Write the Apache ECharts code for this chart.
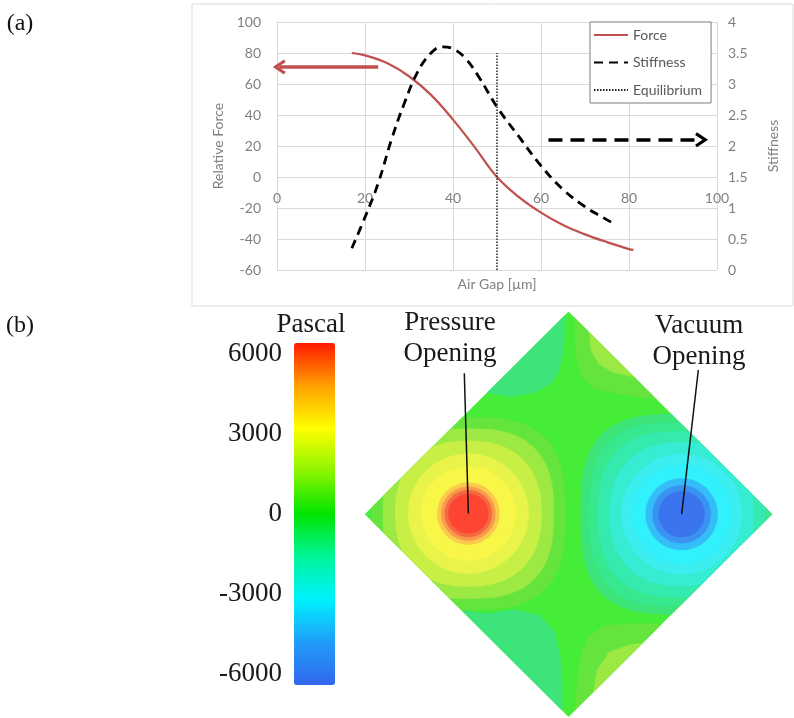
<!DOCTYPE html>
<html><head><meta charset="utf-8">
<script src="https://cdn.jsdelivr.net/npm/echarts@6/dist/echarts.min.js"></script>
<style>html,body{margin:0;padding:0;background:#fff}#c{width:794px;height:718px}</style>
</head><body><div id="c"></div>
<script>
// ---------- (a) line chart data ----------
const forceGap = [17, 20, 25, 30, 35, 40, 45, 50, 55, 60, 65, 70, 75, 80, 81];
const forceVal = [80, 78.5, 73.5, 65, 53, 37, 19, 0, -13, -23, -31, -37, -42, -46.5, -47];
const stiffGap = [17, 20, 23, 26, 29, 32, 35, 37.5, 40, 43, 46, 50, 55, 60, 65, 70, 74, 77];
const stiffVal = [0.35, 0.85, 1.4, 2.1, 2.7, 3.2, 3.5, 3.6, 3.57, 3.4, 3.1, 2.63, 2.15, 1.68, 1.3, 1.02, 0.85, 0.73];
const equilibriumGap = [50, 50];
const equilibriumForce = [-60, 80];
const forceArrowGap = [23, 0.5];
const forceArrowVal = [71, 71];
const stiffArrowGap = [61.7, 96.5];
const stiffArrowVal = [2.1, 2.1];
const seriesNames = ['Force', 'Stiffness', 'Equilibrium'];

// ---------- (b) pressure map data ----------
const colorbarTicks = [-6000, -3000, 0, 3000, 6000];
const colorbarRange = [-6400, 6400];
const pressureCenter = [-49.2, 0.3];
const pressureRingLevels = [1, 2, 3, 4, 5, 6, 7, 8, 9];
const pressureRingRadii = [47.5, 42, 36, 29.6, 23.3, 15.3, 13.3, 11.6, 9.8];
const vacuumCenter = [55.6, 0];
const vacuumRingLevels = [-1, -2, -3, -4, -5, -6, -7, -8, -9];
const vacuumRingRadii = [49.5, 45.5, 41, 35.5, 29.6, 24.6, 17.7, 14.3, 11.3];
const wedgeLevels = [-1, 1, 2, -1, 1, 2];
const wedgeOutlines = [
  [[-2, 98], [-2, 88], [-3, 78], [-5, 70], [-9, 64], [-17, 60], [-28, 58], [-40, 60]],
  [[3, 98], [3, 88], [4, 76], [7, 67], [13, 62], [26, 59], [44, 56.5], [60, 60]],
  [[10, 92], [11, 81], [15, 74], [22, 70], [33, 67.5], [50, 70]],
  [[-3, -98], [-3, -85], [-4, -70], [-7, -58], [-14, -50], [-26, -47], [-40, -49], [-53, -47.5], [-70, -50]],
  [[3, -98], [4, -85], [6, -70], [10, -60], [18, -55], [30, -54], [46, -54], [65, -55]],
  [[12, -90], [14, -77], [20, -68], [30, -64.5], [37, -63.5], [55, -65]]
];
const pressureLeader = [[-49.2, 0.3], [-51.2, 69.6]];
const vacuumLeader = [[55.6, 0], [63.8, 71.2]];

// ---------- styles ----------
const mapLevelColors = ['#3a74ee','#3a92f2','#35bdf7','#31f1fd','#3deef0','#36ecd2','#35eaae','#37e88e','#3ce47a',
  '#45ec38','#66e43e','#9be942','#c8ef45','#e8f44a','#f8f647','#fbc94c','#f99a4a','#f36a40','#fe4532'];
const barColors = ['#3366ee','#1f9df8','#00f2ff','#00f59a','#00e400','#8cf500','#ffff00','#ffa000','#ff1a00'];
const SANS = 'Lato, "Open Sans", sans-serif';
const SERIF = '"Liberation Serif", "DejaVu Serif", serif';
const GREY = '#808080';

function superellipse(c, r) {
  const n = r < 30 ? 2 : Math.min(3.0, 2 + (r - 30) / 18);
  const pts = [];
  for (let k = 0; k < 120; k++) {
    const t = 2 * Math.PI * k / 120, co = Math.cos(t), si = Math.sin(t);
    pts.push([c[0] + r * Math.sign(co) * Math.pow(Math.abs(co), 2 / n),
              c[1] + r * Math.sign(si) * Math.pow(Math.abs(si), 2 / n)]);
  }
  return pts;
}
function clipDiamond(poly, R) {
  const planes = [[1, 1], [1, -1], [-1, 1], [-1, -1]];
  let out = poly;
  for (const [a, b] of planes) {
    const inp = out; out = [];
    for (let i = 0; i < inp.length; i++) {
      const P = inp[i], Q = inp[(i + 1) % inp.length];
      const fp = a * P[0] + b * P[1] - R, fq = a * Q[0] + b * Q[1] - R;
      if (fp <= 0) out.push(P);
      if ((fp < 0 && fq > 0) || (fp > 0 && fq < 0)) {
        const t = fp / (fp - fq);
        out.push([P[0] + t * (Q[0] - P[0]), P[1] + t * (Q[1] - P[1])]);
      }
    }
    if (!out.length) break;
  }
  return out;
}
function wedgePolygon(outline) {
  const first = outline[0], last = outline[outline.length - 1];
  const sy = Math.sign(first[1]), sx = Math.sign(last[0]);
  return outline.concat([[sx * 120, sy * 120], [first[0], sy * 120]]);
}
const mapShapes = [{ level: 0, pts: [[-100, 0], [0, 100], [100, 0], [0, -100]] }];
pressureRingLevels.forEach((lv, i) => mapShapes.push({ level: lv, pts: superellipse(pressureCenter, pressureRingRadii[i]) }));
vacuumRingLevels.forEach((lv, i) => mapShapes.push({ level: lv, pts: superellipse(vacuumCenter, vacuumRingRadii[i]) }));
wedgeOutlines.forEach((o, i) => mapShapes.push({ level: wedgeLevels[i], pts: wedgePolygon(o) }));

const chevron = 'path://M10,0 L20,13 L16.5,15 L10,6.5 L3.5,15 L0,13 Z';

const chart = echarts.init(document.getElementById('c'));
chart.setOption({
  animation: false,
  backgroundColor: '#fff',
  grid: [
    { left: 277, top: 22, width: 440, height: 248 },
    { left: 294, top: 343, width: 41, height: 342 },
    { left: 365, top: 311.7, width: 407, height: 405 }
  ],
  xAxis: [
    { gridIndex: 0, type: 'value', min: 0, max: 100, interval: 20, position: 'bottom', offset: -93,
      axisLine: { onZero: false, lineStyle: { color: '#d9d9d9' } }, axisTick: { show: false },
      axisLabel: { color: GREY, fontSize: 14, fontFamily: SANS, margin: 14 },
      splitLine: { show: true, lineStyle: { color: '#d9d9d9' } } },
    { gridIndex: 1, type: 'value', min: 0, max: 1, show: false },
    { gridIndex: 2, type: 'value', min: -100, max: 100, show: false }
  ],
  yAxis: [
    { gridIndex: 0, type: 'value', min: -60, max: 100, interval: 20, position: 'left',
      axisLine: { show: false }, axisTick: { show: false },
      axisLabel: { color: GREY, fontSize: 14, fontFamily: SANS, margin: 16 },
      splitLine: { lineStyle: { color: '#d9d9d9' } },
      name: 'Relative Force', nameLocation: 'middle', nameGap: 45, nameRotate: 90,
      nameTextStyle: { color: GREY, fontSize: 14, fontFamily: SANS } },
    { gridIndex: 0, type: 'value', min: 0, max: 4, interval: 0.5, position: 'right',
      axisLine: { show: false }, axisTick: { show: false }, splitLine: { show: false },
      axisLabel: { color: GREY, fontSize: 14, fontFamily: SANS, margin: 11 },
      name: 'Stiffness', nameLocation: 'middle', nameGap: 49, nameRotate: 90,
      nameTextStyle: { color: GREY, fontSize: 14, fontFamily: SANS } },
    { gridIndex: 1, type: 'value', min: colorbarRange[0], max: colorbarRange[1],
      axisLine: { show: false }, axisTick: { show: false }, splitLine: { show: false },
      axisLabel: { customValues: colorbarTicks, formatter: v => String(v), color: '#1a1a1a', fontSize: 27, fontFamily: SERIF, margin: 12 } },
    { gridIndex: 2, type: 'value', min: -100, max: 100, show: false }
  ],
  legend: {
    orient: 'vertical', left: 590, top: 22, data: seriesNames,
    itemWidth: 34, itemHeight: 14, itemGap: 13.5, padding: [6, 9, 6, 3],
    borderColor: '#7f7f7f', borderWidth: 1, backgroundColor: '#fff',
    itemStyle: { opacity: 0, borderWidth: 0 },
    textStyle: { color: '#595959', fontSize: 14, fontFamily: SANS }
  },
  visualMap: {
    type: 'continuous', min: colorbarRange[0], max: colorbarRange[1], calculable: false,
    left: 294, top: 343, itemWidth: 41, itemHeight: 342, padding: 0, text: null, showLabel: false,
    inRange: { color: barColors }, seriesIndex: 5, hoverLink: false
  },
  series: [
    { name: seriesNames[0], type: 'line', xAxisIndex: 0, yAxisIndex: 0, smooth: 0.4, showSymbol: false, symbol: 'none',
      data: forceGap.map((g, i) => [g, forceVal[i]]),
      lineStyle: { color: '#c0504d', width: 2.2 }, itemStyle: { color: '#c0504d' },
      markLine: { silent: true, animation: false, symbol: ['none', chevron], symbolSize: [15, 13],
        label: { show: false }, lineStyle: { color: '#c0504d', width: 3.5, type: 'solid' },
        data: [[{ coord: [forceArrowGap[0], forceArrowVal[0]] }, { coord: [forceArrowGap[1], forceArrowVal[1]] }]] } },
    { name: seriesNames[1], type: 'line', xAxisIndex: 0, yAxisIndex: 1, smooth: 0.4, showSymbol: false, symbol: 'none',
      data: stiffGap.map((g, i) => [g, stiffVal[i]]),
      lineStyle: { color: '#000', width: 2.8, type: [9, 6] }, itemStyle: { color: '#000' },
      markLine: { silent: true, animation: false, symbol: ['none', chevron], symbolSize: [15, 13],
        label: { show: false }, lineStyle: { color: '#000', width: 3.5, type: [14, 8] },
        data: [[{ coord: [stiffArrowGap[0], stiffArrowVal[0]] }, { coord: [stiffArrowGap[1], stiffArrowVal[1]] }]] } },
    { name: seriesNames[2], type: 'line', xAxisIndex: 0, yAxisIndex: 0, showSymbol: false, symbol: 'none',
      data: equilibriumGap.map((g, i) => [g, equilibriumForce[i]]),
      lineStyle: { color: '#222', width: 1.5, type: [1.5, 1.5] }, itemStyle: { color: '#222' } },
    { type: 'custom', xAxisIndex: 2, yAxisIndex: 3, silent: true,
      data: mapShapes.map((s, i) => [i, s.level]),
      renderItem: function (params, api) {
        const s = mapShapes[api.value(0)];
        const pts = clipDiamond(s.pts, 100).map(p => api.coord(p));
        return { type: 'polygon', shape: { points: pts },
          style: { fill: mapLevelColors[s.level + 9], stroke: mapLevelColors[s.level + 9], lineWidth: 0.3 } };
      } },
    { type: 'lines', coordinateSystem: 'cartesian2d', xAxisIndex: 2, yAxisIndex: 3, silent: true, z: 5,
      data: [{ coords: pressureLeader }, { coords: vacuumLeader }],
      lineStyle: { color: '#111', width: 1.5, opacity: 1 } },
    { type: 'scatter', xAxisIndex: 1, yAxisIndex: 2, data: [], silent: true }
  ],
  graphic: [
    { type: 'rect', z: 0, silent: true, shape: { x: 192, y: 4, width: 601, height: 302 },
      style: { fill: 'none', stroke: '#d9d9d9', lineWidth: 1 } },
    { type: 'text', z: 100, x: 497, y: 284, style: { text: 'Air Gap [µm]', fill: GREY, font: '14px ' + SANS, textAlign: 'center', textVerticalAlign: 'middle' } },
    { type: 'text', z: 100, x: 20, y: 24, style: { text: '(a)', fill: '#111', font: '24px ' + SERIF, textAlign: 'center', textVerticalAlign: 'middle' } },
    { type: 'text', z: 100, x: 20, y: 326, style: { text: '(b)', fill: '#111', font: '24px ' + SERIF, textAlign: 'center', textVerticalAlign: 'middle' } },
    { type: 'text', z: 100, x: 311, y: 325, style: { text: 'Pascal', fill: '#1a1a1a', font: '27px ' + SERIF, textAlign: 'center', textVerticalAlign: 'middle' } },
    { type: 'text', z: 100, x: 450, y: 338, style: { text: 'Pressure\nOpening', fill: '#1a1a1a', font: '27px ' + SERIF, lineHeight: 31, textAlign: 'center', textVerticalAlign: 'middle' } },
    { type: 'text', z: 100, x: 699, y: 341, style: { text: 'Vacuum\nOpening', fill: '#1a1a1a', font: '27px ' + SERIF, lineHeight: 31, textAlign: 'center', textVerticalAlign: 'middle' } }
  ]
});
</script></body></html>
